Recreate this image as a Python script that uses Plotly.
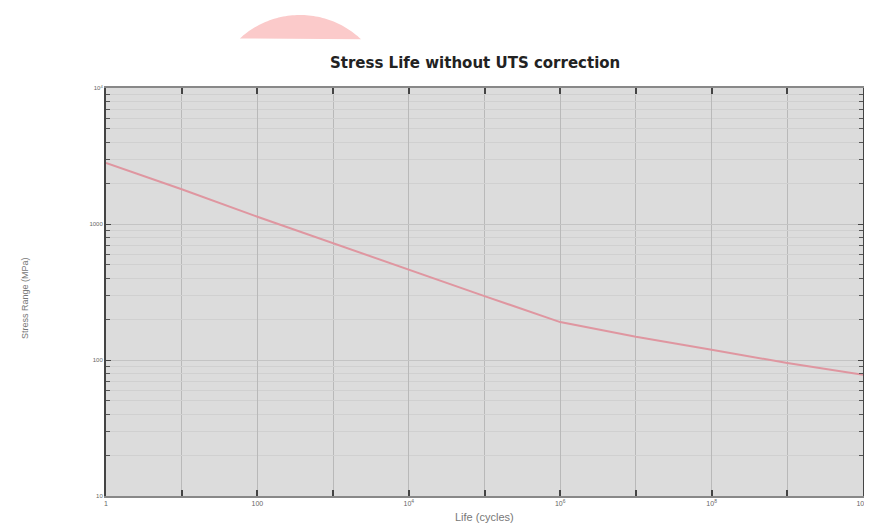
import numpy as np
import plotly.graph_objects as go

# Data
life_cycles = [1, 1e1, 1e2, 1e3, 1e4, 1e5, 1e6, 1e7, 1e8, 1e9, 1e10]
stress_range = [2810, 1800, 1130, 720, 465, 295, 190, 148, 119, 95, 78]

x_tickvals = [1, 1e2, 1e4, 1e6, 1e8, 1e10]
x_ticktext = ["1", "100", "10<sup>4</sup>", "10<sup>6</sup>", "10<sup>8</sup>", "10<sup>10</sup>"]
x_minorvals = [1e1, 1e3, 1e5, 1e7, 1e9]
y_tickvals = [10, 100, 1000, 10000]
y_ticktext = ["10", "100", "1000", "10<sup>4</sup>"]
y_minorvals = [m * 10 ** d for d in (1, 2, 3) for m in range(2, 10)]

W, H = 872, 524
OFF = 8  # page body margin offset
# target plot box in screen pixels: x 106..863, y 88..496
L = 106 - OFF
T = 88 - OFF
R = W - (863 - OFF)
B = H - (496 - OFF)
pw, ph = W - L - R, H - T - B

def px2paper(px, py):
    # screen pixel -> paper coordinates
    return (px - OFF - L) / pw, (H - B - (py - OFF)) / ph

fig = go.Figure()
fig.add_trace(go.Scatter(
    x=life_cycles, y=stress_range, mode="lines",
    line=dict(color="#df96a0", width=2), showlegend=False,
))

# Pink decorative blob at the top
cx, cy, r = 300, 104, 89
ycut = 40
th = np.linspace(0, 2 * np.pi, 240)
pts = [(cx + r * np.cos(t), cy - r * np.sin(t)) for t in th]
pts = [(x, y) for x, y in pts if y <= ycut]
pts.sort(key=lambda p: p[0])
path = ""
for i, (x, y) in enumerate(pts):
    xp, yp = px2paper(x, y)
    path += ("M" if i == 0 else "L") + f"{xp:.4f},{yp:.4f} "
path += "Z"

tx, ty = px2paper(475, 63)
xl_x, xl_y = px2paper(484, 517)
yl_x, yl_y = px2paper(25, 298)

fig.update_layout(
    width=W, height=H,
    margin=dict(l=L, r=R, t=T, b=B, autoexpand=False),
    paper_bgcolor="white",
    plot_bgcolor="#dcdcdc",
    shapes=[dict(type="path", path=path, xref="paper", yref="paper",
                 fillcolor="#fbcaca", line=dict(width=0), layer="below")],
    font=dict(family="Liberation Sans", color="#666"),
    annotations=[
        dict(text="<b>Stress Life without UTS correction</b>", xref="paper", yref="paper",
             x=tx, y=ty, xanchor="center", yanchor="middle", showarrow=False,
             font=dict(family="DejaVu Sans", size=15, color="#222")),
        dict(text="Life (cycles)", xref="paper", yref="paper",
             x=xl_x, y=xl_y, xanchor="center", yanchor="middle",
             showarrow=False, font=dict(size=11, color="#777")),
        dict(text="Stress Range (MPa)", xref="paper", yref="paper",
             x=yl_x, y=yl_y, xanchor="center", yanchor="middle",
             textangle=-90, showarrow=False, font=dict(size=9, color="#777")),
    ],
)

fig.update_xaxes(
    type="log", range=[0, 10], automargin=False,
    tickvals=x_tickvals, ticktext=x_ticktext,
    ticks="inside", ticklen=6, tickwidth=1.5, tickcolor="#444",
    tickfont=dict(size=7, color="#666"),
    showgrid=True, gridcolor="#b9b9b9", gridwidth=1,
    minor=dict(tickvals=x_minorvals, ticks="inside", ticklen=6, tickwidth=1.5,
               tickcolor="#444", showgrid=True, gridcolor="#b9b9b9", gridwidth=1),
    showline=True, linecolor="#888", linewidth=1.5, mirror="ticks",
    zeroline=False,
)
fig.update_yaxes(
    type="log", range=[1, 4], automargin=False,
    tickvals=y_tickvals, ticktext=y_ticktext,
    ticks="inside", ticklen=5, tickwidth=1, tickcolor="#444",
    tickfont=dict(size=6, color="#666"),
    showgrid=True, gridcolor="#c4c4c4", gridwidth=1,
    minor=dict(tickvals=y_minorvals, ticks="inside", ticklen=4, tickcolor="#555",
               showgrid=True, gridcolor="#d0d0d0", gridwidth=1),
    showline=True, linecolor="#444", linewidth=2, mirror="ticks",
    zeroline=False,
)

fig.write_html("out.html")
